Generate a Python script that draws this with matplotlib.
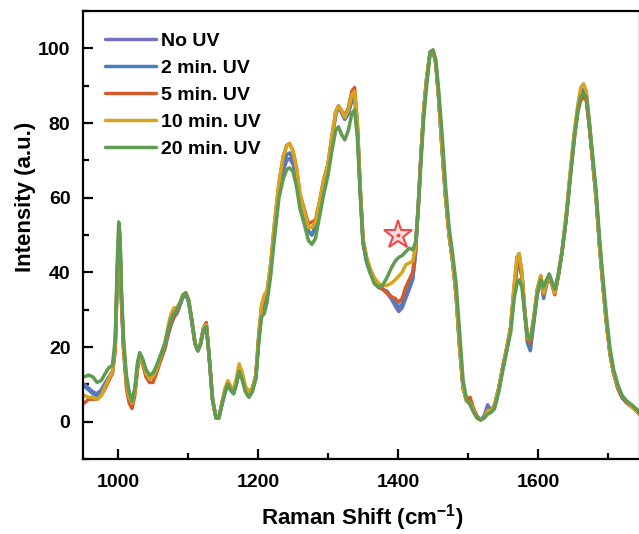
import matplotlib
matplotlib.use("Agg")
import matplotlib.pyplot as plt
from matplotlib.ticker import MultipleLocator

plt.rcParams['font.family'] = ['Liberation Sans', 'DejaVu Sans']
plt.rcParams['font.weight'] = 'bold'
plt.rcParams['mathtext.fontset'] = 'custom'
plt.rcParams['mathtext.rm'] = 'Liberation Sans'
plt.rcParams['mathtext.bf'] = 'Liberation Sans:bold'

shift = [952, 958, 964, 970, 976, 982, 987, 992, 996, 999,
         1001, 1003, 1005, 1008, 1012, 1016, 1020, 1024, 1028, 1031,
         1035, 1040, 1045, 1050, 1055, 1061, 1067, 1072, 1076, 1080,
         1084, 1089, 1093, 1097, 1101, 1106, 1110, 1114, 1118, 1122,
         1126, 1130, 1135, 1140, 1144, 1149, 1153, 1157, 1161, 1165,
         1169, 1173, 1177, 1182, 1187, 1192, 1197, 1201, 1205, 1209,
         1213, 1218, 1224, 1230, 1236, 1241, 1245, 1250, 1255, 1260,
         1266, 1272, 1277, 1282, 1288, 1294, 1300, 1306, 1311, 1315,
         1319, 1324, 1329, 1334, 1338, 1342, 1346, 1350, 1355, 1360,
         1366, 1372, 1378, 1384, 1390, 1396, 1401, 1406, 1411, 1416,
         1421, 1425, 1429, 1433, 1437, 1441, 1446, 1450, 1454, 1458,
         1463, 1468, 1473, 1478, 1483, 1488, 1493, 1498, 1503, 1508,
         1513, 1518, 1523, 1528, 1533, 1538, 1544, 1550, 1556, 1561,
         1566, 1570, 1573, 1577, 1581, 1585, 1589, 1594, 1599, 1604,
         1608, 1612, 1616, 1620, 1624, 1629, 1634, 1640, 1646, 1652,
         1657, 1661, 1665, 1669, 1673, 1678, 1683, 1688, 1693, 1698,
         1703, 1708, 1714, 1720, 1727, 1734, 1740, 1745]

no_uv = [10, 9, 8, 7.5, 8.5, 10.5, 12, 13.5, 20, 40,
         50, 47, 33, 20, 11, 7, 5, 8, 15, 17.5,
         16, 13, 12, 12.5, 14, 17, 20, 24, 26.5, 28,
         29, 31.5, 33.5, 34, 32, 26, 21, 19, 21, 25,
         26.5, 18, 6, 1, 1, 5, 8, 10, 8.5, 7.5,
         10, 13.5, 12, 8.5, 7.5, 8.5, 12, 22, 29, 32,
         33.5, 40, 52, 62, 67, 70, 70.5, 69, 65, 59,
         55, 51, 50, 52, 58, 64, 68, 76, 82, 84.5,
         83, 81, 82.5, 86, 87, 78, 62, 48, 43, 40,
         37.5, 36, 35.5, 34.5, 33, 31, 29.5, 30.5, 33, 35.5,
         38, 45, 58, 72, 84, 92, 99, 99.5, 96, 87,
         73, 60, 50, 43, 34, 20, 9, 5.5, 5, 3,
         1, 0.5, 1.5, 4.5, 3, 4.5, 9, 15, 20, 25,
         36, 44, 45, 40, 30, 22, 20, 27, 35, 39,
         34, 37, 39.5, 37, 34.5, 39, 45, 54, 66, 77,
         84, 88, 89, 87, 80, 70, 60, 47, 36, 26,
         18, 13, 9, 6.5, 5, 4, 3, 2]

uv_2 = [9.5, 8.5, 7.5, 7, 8, 10, 11.5, 13, 19.5, 39,
        49, 46.5, 32.5, 19.5, 10.5, 6.5, 5, 8, 15, 17.5,
        16, 12.5, 11.5, 12, 13.5, 16.5, 19.5, 23.5, 26, 28,
        29, 31.5, 33.5, 34, 32, 26, 21, 19, 21, 24.5,
        26, 18, 6, 1, 1, 5, 8, 10, 8.5, 7.5,
        10, 13.5, 12, 8.5, 7.5, 8.5, 12, 22, 29.5, 32.5,
        34, 41, 52.5, 63, 68.5, 71.5, 72, 70.5, 66, 60,
        55.5, 51, 50, 52.5, 58.5, 64.5, 68.5, 76.5, 82.5, 84.5,
        83, 81, 82.5, 86.5, 87.5, 78.5, 62, 48, 43, 40,
        37.5, 36, 35.5, 35, 33.5, 32, 30.5, 31.5, 34, 36,
        38.5, 45, 58, 72, 84, 92, 99, 99.5, 96, 87,
        73, 60, 50, 43, 34, 20, 9, 5.5, 5, 3,
        1, 0.5, 1, 3.5, 3, 4, 8.5, 14.5, 20, 25,
        35, 41, 42, 39, 29, 21, 19, 26.5, 34.5, 38.5,
        33, 36.5, 39, 37, 34.5, 39, 45, 54, 66, 77,
        84, 87.5, 88.5, 86.5, 80, 70, 60, 47, 36, 26,
        18, 13, 9, 6.5, 5, 4, 3, 2]

uv_5 = [5, 6, 6, 6, 7, 9, 11, 13, 19, 39,
        49, 46, 32, 19, 9, 5, 3.5, 7, 14, 17.5,
        15.5, 12, 10.5, 10.5, 13, 16.5, 20, 24, 26.5, 28.5,
        29.5, 32, 34, 34.5, 32.5, 26.5, 21, 19, 21, 25,
        26.5, 18, 6, 1, 1, 5.5, 8.5, 10.5, 9, 8,
        10.5, 14.5, 12.5, 9, 8, 9, 12.5, 23, 31, 33.5,
        35, 42, 54, 64, 71, 74, 74.5, 72.5, 68, 61,
        57, 53, 53.5, 54, 59, 65, 69, 77, 83, 84.5,
        83.5, 82, 84, 88.5, 89.5, 80, 63, 49, 44, 41,
        38.5, 37, 35.5, 34.5, 33.5, 33, 32, 33, 36, 38,
        40, 46, 58, 72, 84, 92, 99, 99.5, 96, 87,
        73, 60, 50, 43, 34, 20, 9, 6, 6.5, 3.5,
        1.5, 0.5, 1, 3, 3, 4.5, 9, 15, 20.5, 25.5,
        36, 42, 43, 39, 29.5, 22, 21, 28, 35.5, 39,
        34, 37, 39, 36.5, 34, 39, 45, 54, 65.5, 76,
        83, 86, 87, 86, 79.5, 70, 60, 47, 36, 26,
        18, 13, 9, 6.5, 5, 4, 3, 2]

uv_10 = [7, 6.5, 6.5, 6, 7, 9.5, 11.5, 13.5, 20, 40,
         50, 47, 33, 20, 11, 6.5, 5, 8, 15, 17.5,
         16, 13, 11.5, 12, 14, 17.5, 21, 26, 29, 30.5,
         30.5, 32, 34, 34.5, 32.5, 26.5, 21, 19, 21, 25,
         26, 18, 6, 1, 1, 5.5, 9, 11, 9.5, 8.5,
         11.5, 15.5, 13.5, 9.5, 8, 9, 12.5, 23, 31, 34,
         35, 42, 54, 64, 71, 74, 74.5, 72.5, 68, 61,
         56.5, 52, 52, 53.5, 59, 65, 69, 77, 83, 84.5,
         83.5, 81.5, 83.5, 87.5, 88.5, 79.5, 63, 49, 44, 41,
         38.5, 37, 36.5, 36.5, 37, 38, 39, 40, 42, 42.5,
         43, 47, 58, 72, 84, 92, 99, 99.5, 96, 87,
         73, 60, 50, 43, 34, 20, 9, 5.5, 5, 3,
         1, 0.5, 1, 3, 3, 4.5, 9, 15, 20.5, 25.5,
         37, 44, 45, 40, 30, 22.5, 22, 28, 35.5, 39,
         34.5, 37, 39.5, 37, 34.5, 39.5, 45.5, 55, 67, 78,
         85, 89.5, 90.5, 88.5, 81, 70.5, 60, 47, 36, 26,
         18, 13, 9.5, 7, 5.5, 4, 3, 2]

uv_20 = [12, 12.5, 12, 10.5, 11, 13, 14.5, 15, 22, 43,
         53.5, 50, 35, 22, 12.5, 8, 5.5, 9, 16, 18.5,
         17, 14, 12.5, 13, 15, 18, 21, 25, 27.5, 29,
         30, 32, 34, 34.5, 32.5, 26.5, 21, 19, 20.5, 24.5,
         25.5, 18, 6, 1, 1, 5, 8, 10, 8.5, 7.5,
         10, 13.5, 11.5, 8, 6.5, 8, 11.5, 21, 28, 29,
         32, 39, 50, 60, 65, 67.5, 68, 67, 63, 57,
         53, 48.5, 47.5, 49, 55, 61, 66, 73, 78, 79,
         77, 75.5, 78, 82.5, 83.5, 76, 61, 48, 43, 40,
         37, 36, 36.5, 38.5, 41, 43, 44, 44.5, 45.5, 46.5,
         46, 48, 57, 70, 82, 90, 99, 99.5, 97, 89,
         77, 63, 52, 45, 37, 24, 11, 6, 4.5, 2.5,
         1, 0.5, 1, 2, 2.5, 3.5, 8, 14, 19.5, 24,
         33, 37, 38, 36, 29, 23, 22, 27, 34, 38,
         36, 38, 39.5, 37.5, 35.5, 39.5, 45, 54, 65, 76,
         83.5, 87, 88, 87, 81, 71.5, 62, 49, 38, 28,
         19.5, 14, 10, 7, 5.5, 4.5, 3.5, 2.5]

labels = ['No UV', '2 min. UV', '5 min. UV', '10 min. UV', '20 min. UV']
colors = ['#7370C2', '#4A7EBA', '#D25B2C', '#D6A41F', '#5F9B50']
series = [no_uv, uv_2, uv_5, uv_10, uv_20]

star_x, star_y = 1400, 50

fig = plt.figure(figsize=(6.39, 5.34), dpi=100)
ax = fig.add_axes([83 / 639, 75 / 534, 556.5 / 639, 448 / 534])

for ys, c, lab in zip(series, colors, labels):
    ax.plot(shift, ys, color=c, lw=2.5, label=lab, solid_joinstyle='round',
            solid_capstyle='round')

ax.plot([star_x], [star_y], marker='*', markersize=21, mfc='#fcdede',
        mec='#ee4848', mew=1.5, linestyle='none')
ax.plot([star_x], [star_y], marker='o', markersize=1.8, mfc='#ee4848',
        mec='#ee4848', linestyle='none')

ax.set_xlim(950, 1745)
ax.set_ylim(-10, 110)
ax.xaxis.set_major_locator(MultipleLocator(200))
ax.xaxis.set_minor_locator(MultipleLocator(100))
ax.yaxis.set_major_locator(MultipleLocator(20))
ax.yaxis.set_minor_locator(MultipleLocator(10))
ax.tick_params(which='both', direction='in', top=False, right=False, width=1.6)
ax.tick_params(which='major', length=7, labelsize=14)
ax.tick_params(which='minor', length=4)
ax.tick_params(axis='x', which='major', pad=11)
ax.tick_params(axis='y', which='major', pad=9)
for lab in ax.get_xticklabels() + ax.get_yticklabels():
    lab.set_fontweight('bold')
for sp in ax.spines.values():
    sp.set_linewidth(1.6)

fig.text(362 / 639, 1 - 518 / 534, r'Raman Shift (cm$^{\mathbf{-1}}$)',
         fontsize=16, fontweight='bold', ha='center', va='center')
fig.text(25.5 / 639, 1 - 197 / 534, 'Intensity (a.u.)', fontsize=16,
         fontweight='bold', ha='center', va='center', rotation=90)

leg = ax.legend(loc='upper left', bbox_to_anchor=((105 - 83) / 556, (459 - 32) / 448),
                frameon=False, fontsize=14, handlelength=2.6, handletextpad=0.3,
                labelspacing=0.49, borderpad=0, borderaxespad=0)
for t in leg.get_texts():
    t.set_fontweight('bold')
for h in leg.get_lines():
    h.set_linewidth(2.5)

fig.savefig('out.png', dpi=100)
